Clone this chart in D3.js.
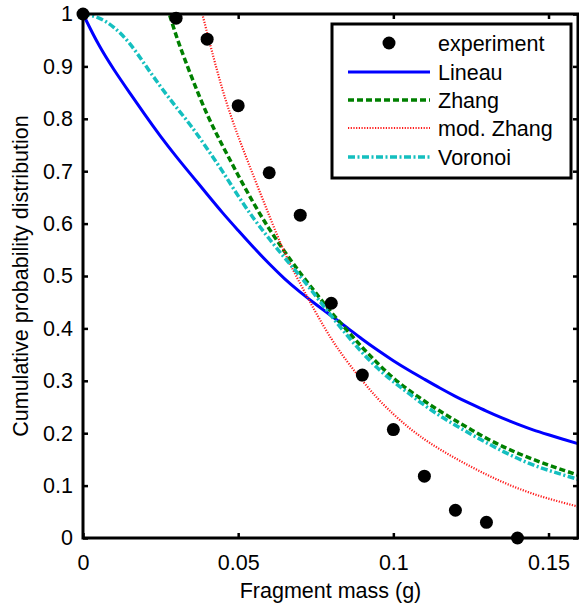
<!DOCTYPE html>
<html>
<head>
<meta charset="utf-8">
<script src="https://cdn.jsdelivr.net/npm/d3@7"></script>
<style>
html,body{margin:0;padding:0;background:#fff;}
svg{display:block;}
text{font-family:"Liberation Sans",Arial,Helvetica,sans-serif;fill:#000;}
</style>
</head>
<body>
<svg id="chart" width="579" height="604"></svg>
<script>
// ---- data ----
const expMass = [0, 0.03, 0.04, 0.05, 0.06, 0.07, 0.08, 0.09, 0.10, 0.11, 0.12, 0.13, 0.14];
const expProb = [1.0, 0.992, 0.952, 0.825, 0.697, 0.616, 0.448, 0.311, 0.207, 0.118, 0.053, 0.030, 0.0];

const lineauX = [0,0.005,0.01,0.015,0.02,0.025,0.03,0.035,0.04,0.045,0.05,0.055,0.06,0.065,0.07,0.075,0.08,0.085,0.09,0.095,0.1,0.105,0.11,0.115,0.12,0.125,0.13,0.135,0.14,0.145,0.15,0.155,0.16];
const lineauY = [1.0,0.94,0.893,0.85,0.807,0.766,0.728,0.692,0.656,0.620,0.587,0.554,0.523,0.494,0.469,0.446,0.424,0.402,0.379,0.358,0.338,0.320,0.303,0.286,0.270,0.256,0.242,0.229,0.217,0.206,0.197,0.188,0.179];

const zhangX = [0.026,0.028,0.03,0.035,0.04,0.045,0.05,0.055,0.06,0.065,0.07,0.075,0.08,0.085,0.09,0.095,0.1,0.105,0.11,0.115,0.12,0.125,0.13,0.135,0.14,0.145,0.15,0.155,0.16];
const zhangY = [1.03,0.998,0.957,0.879,0.806,0.748,0.692,0.638,0.589,0.546,0.505,0.468,0.430,0.397,0.363,0.333,0.304,0.282,0.261,0.242,0.224,0.207,0.190,0.175,0.162,0.150,0.139,0.129,0.119];

const modZhangX = [0.036,0.038,0.04,0.045,0.05,0.055,0.06,0.065,0.07,0.075,0.08,0.085,0.09,0.095,0.1,0.105,0.11,0.115,0.12,0.125,0.13,0.135,0.14,0.145,0.15,0.155,0.16];
const modZhangY = [1.06,1.01,0.964,0.85,0.765,0.69,0.615,0.542,0.485,0.43,0.379,0.337,0.300,0.265,0.236,0.210,0.188,0.169,0.152,0.136,0.121,0.107,0.095,0.084,0.075,0.067,0.059];

const voronoiX = [0,0.005,0.01,0.015,0.02,0.025,0.03,0.035,0.04,0.045,0.05,0.055,0.06,0.065,0.07,0.075,0.08,0.085,0.09,0.095,0.1,0.105,0.11,0.115,0.12,0.125,0.13,0.135,0.14,0.145,0.15,0.155,0.16];
const voronoiY = [1.0,0.995,0.976,0.946,0.903,0.861,0.822,0.786,0.743,0.700,0.652,0.609,0.571,0.534,0.500,0.462,0.424,0.387,0.353,0.323,0.298,0.276,0.253,0.233,0.215,0.198,0.182,0.166,0.152,0.139,0.129,0.120,0.111];

const xTicks = [0, 0.05, 0.1, 0.15];
const xTickLabels = ["0", "0.05", "0.1", "0.15"];
const yTicks = [0, 0.1, 0.2, 0.3, 0.4, 0.5, 0.6, 0.7, 0.8, 0.9, 1];
const yTickLabels = ["0", "0.1", "0.2", "0.3", "0.4", "0.5", "0.6", "0.7", "0.8", "0.9", "1"];

const seriesNames = ["experiment", "Lineau", "Zhang", "mod. Zhang", "Voronoi"];
const xTitle = "Fragment mass (g)";
const yTitle = "Cumulative probability distribution";

// ---- layout ----
const L = 83, R = 578, T = 14, B = 538;
const svg = d3.select("#chart");
const x = d3.scaleLinear().domain([0, 0.1595]).range([L, R]);
const y = d3.scaleLinear().domain([0, 1]).range([B, T]);
const FS = 21.5;

svg.append("defs").append("clipPath").attr("id", "clip")
  .append("rect").attr("x", L).attr("y", T).attr("width", R - L).attr("height", B - T);

// axes
const axL = svg.append("g").attr("transform", `translate(${L},0)`)
  .call(d3.axisLeft(y).tickValues(yTicks).tickSizeInner(-5).tickSizeOuter(0).tickPadding(10)
    .tickFormat((d, i) => yTickLabels[i]));
const axB = svg.append("g").attr("transform", `translate(0,${B})`)
  .call(d3.axisBottom(x).tickValues(xTicks).tickSizeInner(-5).tickSizeOuter(0).tickPadding(17)
    .tickFormat((d, i) => xTickLabels[i]));
const axR = svg.append("g").attr("transform", `translate(${R},0)`)
  .call(d3.axisRight(y).tickValues(yTicks).tickSizeInner(-5).tickSizeOuter(0).tickFormat(""));
const axT = svg.append("g").attr("transform", `translate(0,${T})`)
  .call(d3.axisTop(x).tickValues(xTicks).tickSizeInner(-5).tickSizeOuter(0).tickFormat(""));

[axL, axB, axR, axT].forEach(g => {
  g.select(".domain").remove();
  g.selectAll(".tick line").attr("stroke", "#000").attr("stroke-width", 2.5);
  g.selectAll("text").attr("font-size", FS).attr("font-family", "Liberation Sans, Arial, sans-serif").attr("fill", "#000");
});

// curves
const lineGen = d3.line().x(d => x(d[0])).y(d => y(d[1])).curve(d3.curveBasis);
const plot = svg.append("g").attr("clip-path", "url(#clip)");

const curves = [
  {xs: lineauX, ys: lineauY, color: "#0000ff", w: 3, dash: null},
  {xs: zhangX, ys: zhangY, color: "#008000", w: 3.5, dash: "6,3"},
  {xs: modZhangX, ys: modZhangY, color: "#ff1a1a", w: 2.2, dash: "1.2,1.5"},
  {xs: voronoiX, ys: voronoiY, color: "#14bfbf", w: 3.5, dash: "7,2.5,2,2.5"}
];
curves.forEach(c => {
  plot.append("path").datum(c.xs.map((v, i) => [v, c.ys[i]]))
    .attr("d", lineGen).attr("fill", "none").attr("stroke", c.color)
    .attr("stroke-width", c.w).attr("stroke-dasharray", c.dash);
});

// frame
svg.append("rect").attr("x", L).attr("y", T).attr("width", R - L).attr("height", B - T)
  .attr("fill", "none").attr("stroke", "#000").attr("stroke-width", 3);

// experiment points (drawn above frame)
svg.append("g").selectAll("circle").data(expMass.map((v, i) => [v, expProb[i]]))
  .join("circle").attr("cx", d => x(d[0])).attr("cy", d => y(d[1])).attr("r", 6.5).attr("fill", "#000");

// titles
svg.append("text").attr("x", (L + R) / 2).attr("y", 598).attr("text-anchor", "middle")
  .attr("font-size", FS).text(xTitle);
svg.append("text").attr("transform", `translate(28,${(T + B) / 2}) rotate(-90)`).attr("text-anchor", "middle")
  .attr("font-size", FS).text(yTitle);

// legend
const lg = svg.append("g");
lg.append("rect").attr("x", 332).attr("y", 24).attr("width", 239).attr("height", 154)
  .attr("fill", "#fff").attr("stroke", "#000").attr("stroke-width", 3);
const rowY = [43, 72, 100, 128, 157];
seriesNames.forEach((name, i) => {
  if (i === 0) {
    lg.append("circle").attr("cx", 389).attr("cy", rowY[i]).attr("r", 6.5).attr("fill", "#000");
  } else {
    const c = curves[i - 1];
    lg.append("line").attr("x1", 348).attr("x2", 430).attr("y1", rowY[i]).attr("y2", rowY[i])
      .attr("stroke", c.color).attr("stroke-width", c.w).attr("stroke-dasharray", c.dash);
  }
  lg.append("text").attr("x", 438).attr("y", rowY[i] + 8).attr("font-size", FS).text(name);
});
</script>
</body>
</html>
